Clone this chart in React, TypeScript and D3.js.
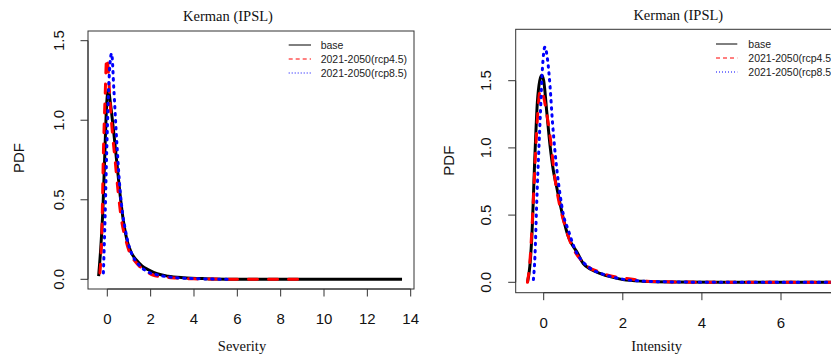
import React from "react";
import * as d3 from "d3";

// ---------- Data ----------
const seriesNames = ["base", "2021-2050(rcp4.5)", "2021-2050(rcp8.5)"];

// Severity panel
const sevBaseX = [-0.4, -0.3, -0.2, -0.1, -0.03, 0.05, 0.15, 0.3, 0.45, 0.6, 0.75, 0.9, 1.1, 1.35, 1.6, 1.9, 2.3, 2.8, 3.5, 4.5, 6, 9, 13.6];
const sevBaseY = [0.02, 0.2, 0.45, 0.85, 1.1, 1.19, 1.1, 0.92, 0.72, 0.52, 0.36, 0.25, 0.17, 0.12, 0.085, 0.06, 0.035, 0.02, 0.01, 0.004, 0.001, 0, 0];
const sev45X = [-0.34, -0.25, -0.18, -0.1, -0.03, 0.05, 0.12, 0.25, 0.36, 0.5, 0.66, 0.85, 1.05, 1.3, 1.5, 1.8, 2.1, 2.6, 3.2, 4, 5.5, 9.2];
const sev45Y = [0.04, 0.3, 0.79, 1.15, 1.39, 1.3, 1.13, 0.9, 0.75, 0.55, 0.37, 0.25, 0.16, 0.11, 0.08, 0.05, 0.027, 0.015, 0.008, 0.003, 0.001, 0];
const sev85X = [-0.18, -0.1, -0.03, 0.05, 0.12, 0.2, 0.3, 0.43, 0.59, 0.7, 0.82, 1.0, 1.2, 1.5, 1.82, 2.3, 3, 4, 5.7];
const sev85Y = [0.04, 0.4, 0.79, 1.15, 1.35, 1.42, 1.2, 0.88, 0.56, 0.42, 0.32, 0.21, 0.14, 0.085, 0.05, 0.028, 0.012, 0.004, 0];

// Intensity panel
const intBaseX = [-0.41, -0.35, -0.3, -0.22, -0.16, -0.1, -0.05, 0.0, 0.08, 0.16, 0.24, 0.32, 0.41, 0.5, 0.6, 0.7, 0.83, 1.0, 1.2, 1.42, 1.7, 2.0, 2.5, 3.2, 4.5, 6, 8];
const intBaseY = [0, 0.12, 0.34, 0.96, 1.34, 1.5, 1.54, 1.5, 1.26, 1.02, 0.84, 0.72, 0.59, 0.47, 0.36, 0.29, 0.23, 0.14, 0.095, 0.067, 0.04, 0.02, 0.008, 0.003, 0.001, 0, 0];
const int45X = [-0.41, -0.35, -0.28, -0.2, -0.14, -0.09, -0.02, 0.05, 0.16, 0.29, 0.4, 0.5, 0.6, 0.7, 0.85, 1.0, 1.2, 1.4, 1.6, 1.9, 2.2, 2.5, 3, 4, 8];
const int45Y = [0, 0.15, 0.5, 1.0, 1.3, 1.43, 1.4, 1.3, 1.09, 0.76, 0.58, 0.46, 0.36, 0.28, 0.2, 0.15, 0.1, 0.08, 0.055, 0.035, 0.025, 0.01, 0.004, 0.001, 0];
const int85X = [-0.26, -0.22, -0.18, -0.09, -0.03, 0.03, 0.1, 0.16, 0.22, 0.29, 0.41, 0.5, 0.62, 0.72, 0.83, 1.0, 1.2, 1.5, 1.8, 2.2, 3, 4, 8];
const int85Y = [0.02, 0.2, 0.56, 1.21, 1.6, 1.75, 1.65, 1.46, 1.2, 0.96, 0.66, 0.5, 0.39, 0.3, 0.22, 0.15, 0.1, 0.06, 0.035, 0.015, 0.004, 0.001, 0];

const sevXTicks = [0, 2, 4, 6, 8, 10, 12, 14];
const intXTicks = [0, 2, 4, 6];
const yTicks = [0, 0.5, 1.0, 1.5];
const yTickLabels = ["0.0", "0.5", "1.0", "1.5"];

const colors = ["#000000", "#ff0000", "#0000ff"];
const dashes = ["none", "9,11", "1.5,5.5"];

type Layout = {
  id: string;
  box: [number, number, number, number]; // x0, y0, x1, y1
  xDom: [number, number];
  xRange: [number, number];
  yRange: [number, number];
  xTicks: number[];
  xAxisEnd: number;
  title: string;
  titleX: number;
  titleY: number;
  xlab: string;
  xlabX: number;
  xlabY: number;
  ylabX: number;
  ylabY: number;
  yTickLabelX: number;
  xTickLabelY: number;
  legLineX0: number;
  legLineX1: number;
  legTextX: number;
  legY: number;
  series: [number[], number[]][];
};

function Panel({ L }: { L: Layout }) {
  const x = d3.scaleLinear().domain(L.xDom).range(L.xRange);
  const y = d3.scaleLinear().domain([0, 1.5]).range(L.yRange);
  const [bx0, by0, bx1, by1] = L.box;
  const line = d3
    .line<[number, number]>()
    .x((d) => x(d[0]))
    .y((d) => y(d[1]))
    .curve(d3.curveMonotoneX);
  const tickLen = 7.5;
  return (
    <g>
      <defs>
        <clipPath id={"clip-" + L.id}>
          <rect x={bx0} y={by0} width={bx1 - bx0} height={by1 - by0} />
        </clipPath>
      </defs>
      <g clipPath={`url(#clip-${L.id})`}>
        {L.series.map(([xs, ys], i) => (
          <path
            key={i}
            d={line(xs.map((v, j) => [v, ys[j]] as [number, number])) || ""}
            fill="none"
            stroke={colors[i]}
            strokeWidth={3}
            strokeDasharray={dashes[i]}
            strokeLinecap={i === 0 ? "butt" : "round"}
            strokeLinejoin="round"
          />
        ))}
      </g>
      <rect x={bx0} y={by0} width={bx1 - bx0} height={by1 - by0} fill="none" stroke="#333" strokeWidth={1} />
      {/* x axis */}
      <line x1={x(L.xTicks[0])} x2={L.xAxisEnd} y1={by1} y2={by1} stroke="#333" />
      {L.xTicks.map((t) => (
        <g key={t}>
          <line x1={x(t)} x2={x(t)} y1={by1} y2={by1 + tickLen} stroke="#333" />
          <text
            x={x(t)}
            y={L.xTickLabelY}
            textAnchor="middle"
            dominantBaseline="central"
            fontFamily="Liberation Sans, Arial, sans-serif"
            fontSize={15}
            fill="#111"
          >
            {t}
          </text>
        </g>
      ))}
      {/* y axis */}
      <line x1={bx0} x2={bx0} y1={y(0)} y2={y(1.5)} stroke="#333" />
      {yTicks.map((t, i) => (
        <g key={t}>
          <line x1={bx0 - tickLen} x2={bx0} y1={y(t)} y2={y(t)} stroke="#333" />
          <text
            transform={`translate(${L.yTickLabelX},${y(t)}) rotate(-90)`}
            textAnchor="middle"
            dominantBaseline="central"
            fontFamily="Liberation Sans, Arial, sans-serif"
            fontSize={15}
            fill="#111"
          >
            {yTickLabels[i]}
          </text>
        </g>
      ))}
      <text
        x={L.titleX}
        y={L.titleY}
        textAnchor="middle"
        dominantBaseline="central"
        fontFamily="Liberation Serif, Times New Roman, serif"
        fontSize={14.5}
        fill="#111"
      >
        {L.title}
      </text>
      <text
        x={L.xlabX}
        y={L.xlabY}
        textAnchor="middle"
        dominantBaseline="central"
        fontFamily="Liberation Serif, Times New Roman, serif"
        fontSize={14.5}
        fill="#111"
      >
        {L.xlab}
      </text>
      <text
        transform={`translate(${L.ylabX},${L.ylabY}) rotate(-90)`}
        textAnchor="middle"
        dominantBaseline="central"
        fontFamily="Liberation Sans, Arial, sans-serif"
        fontSize={15}
        fill="#111"
      >
        PDF
      </text>
      {/* legend */}
      {seriesNames.map((n, i) => (
        <g key={n}>
          <line
            x1={L.legLineX0}
            x2={L.legLineX1}
            y1={L.legY + i * 14}
            y2={L.legY + i * 14}
            stroke={colors[i]}
            strokeWidth={1}
            strokeDasharray={i === 0 ? "none" : i === 1 ? "4,3" : "1,2"}
          />
          <text
            x={L.legTextX}
            y={L.legY + i * 14}
            dominantBaseline="central"
            fontFamily="Liberation Sans, Arial, sans-serif"
            fontSize={10.5}
            fill="#222"
          >
            {n}
          </text>
        </g>
      ))}
    </g>
  );
}

const leftLayout: Layout = {
  id: "sev",
  box: [88, 31, 414, 289],
  xDom: [0, 14],
  xRange: [107.3, 410.7],
  yRange: [279.3, 40.7],
  xTicks: sevXTicks,
  xAxisEnd: 410.7,
  title: "Kerman (IPSL)",
  titleX: 228,
  titleY: 16,
  xlab: "Severity",
  xlabX: 242,
  xlabY: 346,
  ylabX: 18,
  ylabY: 158,
  yTickLabelX: 58.3,
  xTickLabelY: 318,
  legLineX0: 288.7,
  legLineX1: 311,
  legTextX: 320.7,
  legY: 45,
  series: [
    [sevBaseX, sevBaseY],
    [sev45X, sev45Y],
    [sev85X, sev85Y],
  ],
};

const rightLayout: Layout = {
  id: "int",
  box: [515.7, 29.3, 900, 292.7],
  xDom: [0, 6],
  xRange: [543.7, 781],
  yRange: [282.3, 80.7],
  xTicks: intXTicks,
  xAxisEnd: 900,
  title: "Kerman (IPSL)",
  titleX: 678.3,
  titleY: 14.7,
  xlab: "Intensity",
  xlabX: 656.7,
  xlabY: 346,
  ylabX: 448.3,
  ylabY: 160.7,
  yTickLabelX: 485.7,
  xTickLabelY: 322.7,
  legLineX0: 716,
  legLineX1: 737.3,
  legTextX: 748.3,
  legY: 44,
  series: [
    [intBaseX, intBaseY],
    [int45X, int45Y],
    [int85X, int85Y],
  ],
};

export default function App() {
  return (
    <svg
      width={831}
      height={359}
      style={{ position: "absolute", left: 0, top: 0, background: "#fff" }}
    >
      <rect width={831} height={359} fill="#fff" />
      <Panel L={leftLayout} />
      <Panel L={rightLayout} />
    </svg>
  );
}
